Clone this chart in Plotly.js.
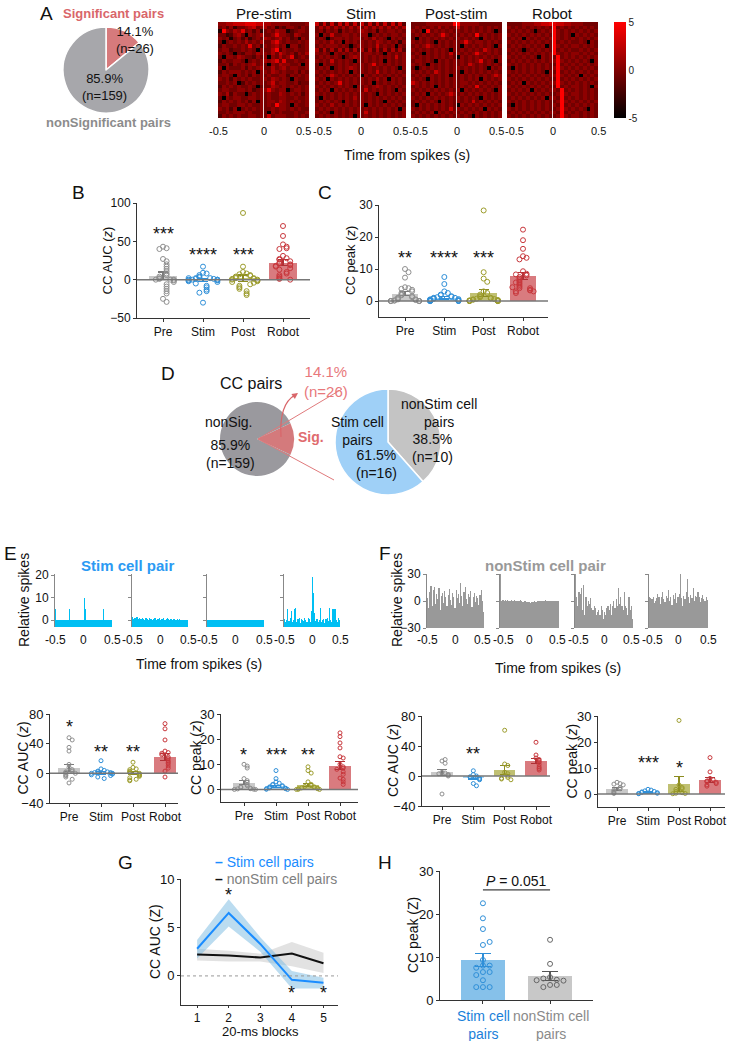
<!DOCTYPE html>
<html><head><meta charset="utf-8">
<script src="https://cdn.plot.ly/plotly-3.0.1.min.js"></script>
<style>body{margin:0;background:#fff}#chart{width:735px;height:1041px}</style>
</head><body><div id="chart"></div>
<script>
// ---------------- DATA ----------------
const catNames = ['Pre','Stim','Post','Robot'];
const heatTitles = ['Pre-stim','Stim','Post-stim','Robot'];
const pieACounts = [26,159];          // significant, non-significant
const pieDLeftCounts = [26,159];      // Sig., nonSig.
const pieDRightCounts = [10,16];      // nonStim cell pairs, Stim cell pairs

// heatmap rows (digit 0..9 -> z from -5 to 5)
const heatPre = [
"556677788877665555544445","453524456745645243554354","195465845352454655134554","442356405456445855436544",
"545145352454654564534154","404545464546446854544545","354454548453545645055345","455344545405446935445445",
"545404355465546475453546","405546544354505464583454","354455404545656848445445","445354545645405465544505",
"505444535456446456455445","354555454505546545445354","455405453545454455354545","545354545445546545405445",
"445450354545457455445344","354545445404446545454545","455445545345585455045545","546354404545454465454535",
"405455445545454455445445","354545453505455465454545","455445545445454955405445","545350454545445455454544",
"445455545445405454445445","354545445545474555445454"];
const heatStim = [
"737373737373737373737373","464646464646464646464646","453545254545654525455454","505474455454550454545545",
"454045545455454645405454","545464505454545465454525","454555454045545474545054","636363636363636363636363",
"545405454545455454054545","454545404565454545454745","545474545405454545054545","405454545454545845454545",
"454504545654545454545405","545454545054545474545454","454575454545054545454545","545054545454545464505454",
"454545845454545054545454","545454545405454565454545","454505454545474545454054","545454545454545405454545",
"405454545464545454545454","454545405454545454054545","545464545454505454545454","454545454545454545454505",
"545405454545474545454545","454545454505454545454545"];
const heatPost = [
"444455555559955555444444","454545464545745454545454","545094545454545454545404","454545458545454549454545",
"405454545454545454054545","545454054545458545545454","454575454545405454545405","545454545405454545475454",
"454054545474545458545454","545454545454054545454545","455454054545454545845405","545405454545454754545454",
"404545454545545454540545","545454754545405454545454","454545454505454545454575","545405454545454545054545",
"754545454545455454545454","454545054545454548454545","545454545454505454545405","454505454575454545454545",
"545454545454545454054545","454545405454545474545454","405454545454054545454545","545454545474545454505454",
"454545054545454545454545","545454545454545405454545"];
const heatRobot = [
"444455566778877665554444","545454545454945454545454","454545404545954545454545","545454545454954540545454",
"454505454545954545454545","545454545454945454454054","454545454504954545545454","545404545454945454454545",
"454545454545954545545454","545454540545494545454545","454545454545595454545405","545454545454494545454545",
"405454545454595454545454","545454545405494545454545","454545454545595454505454","545454545454494545454545",
"454505454545595454545454","545454545454494545545405","454545054545549454545454","545454545454459545545454",
"454545454505549454545454","545454545454459545454545","405454545454549454545454","545454545454459545454054",
"454545454545549454545454","545454545454459545545454"];

// Panel B: CC AUC (z), all significant pairs
const bPre   = [43,41,40,27,24,20,17,14,11,8,6,4,2,1,0,0,0,-1,-3,-6,-9,-12,-15,-18,-25,-29];
const bStim  = [17,9,8,6,4,3,2,2,1,1,0,0,0,0,-1,-1,-2,-3,-5,-8,-10,-13,-15,-17,-30,2];
const bPost  = [87,17,10,8,7,6,5,4,3,2,2,1,1,0,0,-1,-2,-3,-4,-6,-8,-10,-12,-15,-18,-20];
const bRobot = [70,57,46,43,41,40,31,28,27,26,24,22,21,20,19,18,17,15,13,10,8,6,4,2,1,0];
const bMeans = [5,0,2,22];
const bSems  = [5,2,4,4];
// Panel C: CC peak (z)
const cPre   = [10,9,7.3,4.3,4,3.8,3.5,3,2.5,2,1.8,1.5,1.2,1,0.8,0.5,0.5,0.3,0.2,0.1,0,0,0,0,0,0];
const cStim  = [7.5,5.3,3,2.5,2,1.8,1.5,1.3,1.2,1,1,0.8,0.7,0.6,0.5,0.4,0.3,0.3,0.2,0.1,0.1,0,0,0,0,0];
const cPost  = [28.3,9,7,6,3,2.5,2,1.5,1.2,1,0.8,0.7,0.6,0.5,0.4,0.3,0.2,0.2,0.1,0.1,0,0,0,0,0,0];
const cRobot = [22.3,19,16.3,14,13.5,13,9.3,8.5,8,7.5,7,6.5,6,5.5,5,4.5,4,4,3.5,3.3,3,3,2.5,8.3,5.8,4.3];
const cMeans = [2.3,1,2.5,7.8];
const cSems  = [0.7,0.4,1.2,1.2];

// Panel E: Stim cell pair histograms (relative spikes, 50 bins from -0.5 to 0.5 s)
const eHist1 = [5,0,0,0,0,0,0,0,0,0,0,0,5,0,0,0,0,0,0,0,0,0,0,0,0,10,5,0,0,0,0,0,0,0,0,0,0,0,0,0,0,0,5,0,0,0,0,0,0,0];
const eHist2 = [1.5,0.5,1,0.8,1.3,0.6,0.9,0.4,0.7,1.2,0.5,0.3,0.8,0.6,0.2,0.9,0.4,0.7,0.3,0.5,0.8,0.2,0.6,0.4,0.9,0.3,0.5,0.7,0.8,0.2,0.6,0.9,0.4,0.3,0.7,0.5,0.2,0.6,0.3,0.1,0.4,0.2,0.5,0.1,0.3,0.2,0.1,0.3,0.2,0];
const eHist3 = [0,0,0,0,0,0,0,0,0,0,0,0,0,0,0,0,0,0,0,0,0,0,0,0,0,0,0,0,0,0,0,0,0,0,0,0,0,0,0,0,0,0,0,0,0,0,0,0,0,0];
const eHist4 = [0.5,-1,0.3,5,-0.5,1,4,-1,0.2,5,5.5,-0.8,0.4,1,-1.2,0.6,0.2,-0.5,1,0.3,-1,0.8,0.5,-0.6,4,19,12,3,-0.4,0.7,-1,0.3,5.5,-0.8,0.2,0.6,-1.1,0.4,0.9,-0.3,5.5,0.2,-0.7,5,5,5,0.3,-0.9,1,0.2];
// Panel F: nonStim cell pair histograms
const fHist1 = [3,-8,10,17,-5,12,16,-3,8,2,14,-10,6,9,-2,11,4,-6,7,13,1,-4,9,5,-8,12,3,8,-2,20,6,-5,10,16,2,-3,8,5,11,-7,4,9,-1,6,3,-4,7,12,0,-12];
const fHist2 = [30,0,1,0.5,1,0,1,0.5,-0.5,1,0,0.5,1,0,-0.5,0.5,0,1,0,-1,0,-0.5,-1,-1.5,-1,-2,-1,-1.5,-1,-0.5,-1,0,-0.5,0,0.5,-0.5,0,0.5,1,0,0.5,0,-0.5,0,0.5,0,-0.5,0,0,-0.5];
const fHist3 = [30,5,-5,10,8,15,-10,18,-15,5,-5,0,-3,3,-8,-10,-5,-8,-15,-12,-10,-15,-5,-10,-20,-12,-15,-8,-5,-10,-3,-15,-5,0,-8,2,-5,15,-3,5,-5,-10,10,-5,-8,-15,5,-10,-5,-20];
const fHist4 = [4,3,2,5,-2,0,3,8,5,-3,4,10,2,-1,6,3,12,0,5,-4,7,2,9,-2,4,8,30,3,-5,6,2,10,24,5,-2,7,3,14,0,6,4,10,5,-1,3,7,2,0,4,1];

// Panel E bottom: Stim cell pairs (n=16)
const eAucPre   = [48,45,35,30,12,8,5,3,2,1,0,-2,-3,-5,-8,-13];
const eAucStim  = [17,6,4,3,2,2,1,1,0,0,0,-1,-2,-3,-5,-7];
const eAucPost  = [15,8,6,5,3,2,1,0,-1,-2,-3,-4,-6,-8,-9,-10];
const eAucRobot = [67,60,45,30,28,27,25,22,20,17,15,13,10,7,3,-5];
const eAucMeans = [7,1,0,22];
const eAucSems  = [5,2,2,5];
const ePeakPre   = [10,9.3,8.5,4.3,3.5,2.8,2,1.5,1,0.8,0.5,0.3,0.2,0.1,0,0];
const ePeakStim  = [7.5,4.3,3,2.5,2,1.8,1.5,1.2,1,0.8,0.6,0.5,0.3,0.2,0.1,0];
const ePeakPost  = [9,7.5,6.5,3,2,1.5,1.2,1,0.8,0.6,0.5,0.3,0.2,0.1,0,0];
const ePeakRobot = [22.5,21,18.5,16.5,13,12.5,10,9,8.5,8,7,6,4.5,4,3,2];
const ePeakMeans = [2.7,1.3,1.8,9.5];
const ePeakSems  = [0.8,0.4,0.7,1.5];
// Panel F bottom: nonStim cell pairs (n=10)
const fAucPre   = [20,22,17,5,4,3,2,1,0,-24];
const fAucStim  = [7,2,0,-1,-2,-3,-4,-5,-10,-13];
const fAucPost  = [61,16,14,5,3,0,-2,-3,-4,-5];
const fAucRobot = [45,28,24,22,20,18,15,12,10,8];
const fAucMeans = [5,-2,8,20];
const fAucSems  = [4,2,6,3];
const fPeakPre   = [4.5,4,3.8,3.5,2.5,2,1.5,1,0.5,0.2];
const fPeakStim  = [1.8,1.5,1.2,1,0.8,0.6,0.5,0.3,0.2,0.1];
const fPeakPost  = [28.3,3.5,2.5,2,1.8,1,0.5,0.3,0.2,0.1];
const fPeakRobot = [14,8.5,6,5.5,5,4.8,4.5,4,3.5,3];
const fPeakMeans = [2.0,0.6,3.8,5.5];
const fPeakSems  = [0.5,0.2,2.8,1.0];

// Panel G: CC AUC per 20-ms block
const gBlocks   = [1,2,3,4,5];
const gStimMean = [2.8,6.5,3.3,-0.4,-0.7];
const gStimLo   = [1.8,5.1,2.5,-1.3,-1.3];
const gStimHi   = [3.7,7.9,4.0,0.5,-0.2];
const gNonMean  = [2.2,2.1,1.9,2.3,1.3];
const gNonLo    = [1.6,1.5,1.5,1.0,0.3];
const gNonHi    = [2.8,2.6,2.3,3.5,2.4];

// Panel H: CC peak
const hStim    = [22.5,19,16.5,12.8,13.5,9.3,8,8,7.5,6.5,6.5,5.8,4.6,3,3,3];
const hNonStim = [14,8.4,5.3,4.7,5,4.5,3.5,3.5,3,4.6];
const hMeans   = [9.3,5.6];
const hSems    = [1.5,1.0];

// ---------------- LAYOUT HELPERS ----------------
const W=735,H=1041;
const FONT='Liberation Sans, Arial, sans-serif';
const traces=[];
const layout={width:W,height:H,margin:{l:0,r:0,t:0,b:0},paper_bgcolor:'#fff',plot_bgcolor:'rgba(0,0,0,0)',
  showlegend:false,font:{family:FONT,color:'#111',size:12},annotations:[],shapes:[],bargap:0};
const px=x=>x/W, py=y=>1-y/H;
let nAx=0;
function mkAxes(x0,x1,y0,y1,xo,yo){
  nAx++; const s=nAx===1?'':String(nAx);
  const base={showgrid:false,zeroline:false,fixedrange:true,showline:true,linecolor:'#333',linewidth:1,
    ticks:'outside',ticklen:3,tickwidth:1,tickcolor:'#333',tickfont:{family:FONT,size:12,color:'#222'}};
  layout['xaxis'+s]=Object.assign({},base,{domain:[x0/W,x1/W],anchor:'y'+s},xo||{});
  layout['yaxis'+s]=Object.assign({},base,{domain:[1-y1/H,1-y0/H],anchor:'x'+s},yo||{});
  return {x:'x'+s,y:'y'+s};
}
function txt(x,y,text,size,color,o){
  layout.annotations.push(Object.assign({xref:'paper',yref:'paper',x:px(x),y:py(y),text:text,showarrow:false,
    xanchor:'center',yanchor:'middle',font:{family:FONT,size:size||13,color:color||'#111'}},o||{}));
}
// x tick labels -0.5 / 0 / 0.5 for a row of adjacent small panels
// gapShift = null -> all labels centred on their tick; number -> inner edge labels meet at the gap centre
function edgeTicks(ax,k,last,yPix,size,gapShift){
  const tf={family:FONT,size:size,color:'#111'};
  const ty=py(yPix);
  const centred=(gapShift===null);
  layout.annotations.push({xref:ax.x,yref:'paper',x:0,y:ty,text:'0',showarrow:false,xanchor:'center',yanchor:'middle',font:tf});
  const lc=centred||k===0, rc=centred||k===last;
  layout.annotations.push({xref:ax.x,yref:'paper',x:-0.5,y:ty,text:'-0.5',showarrow:false,
    xanchor:lc?'center':'left',xshift:lc?0:-gapShift,yanchor:'middle',font:tf,borderpad:0});
  layout.annotations.push({xref:ax.x,yref:'paper',x:0.5,y:ty,text:'0.5',showarrow:false,
    xanchor:rc?'center':'right',xshift:rc?0:gapShift,yanchor:'middle',font:tf,borderpad:0});
}
function swarm(vals,thr,step){
  const placed=[];
  return vals.map(v=>{
    const k=placed.filter(p=>Math.abs(p-v)<thr).length; placed.push(v);
    let off=k===0?0:(k%2?1:-1)*Math.ceil(k/2)*step;
    return Math.max(-0.36,Math.min(0.36,off));
  });
}
const ptCol=['#8f8f8f','#2f8fd8','#9c9c2c','#c8373c'];
const barCol=['#c9c9c9','#a5d3f2','#c0c072','#d97b7f'];
const errCol=['#7a7a7a','#2f8fd8','#8c8c20','#b03035'];

// ---------------- PANEL A ----------------
txt(46,13,'A',19);
txt(113,13,'<b>Significant pairs</b>',13,'#d9666a');
txt(108,123,'<b>nonSignificant pairs</b>',13,'#8c8c8c');
function pieDomain(cx,cy,r){return {x:[(cx-r)/W,(cx+r)/W],y:[1-(cy+r)/H,1-(cy-r)/H]};}
traces.push({type:'pie',values:pieACounts,labels:['Significant','nonSignificant'],domain:pieDomain(106,70,43),
  sort:false,direction:'clockwise',rotation:0,marker:{colors:['#d67a7c','#a7a7ab'],line:{color:'#fff',width:1.5}},
  textinfo:'none',hoverinfo:'none'});
txt(135,40,(100*pieACounts[0]/(pieACounts[0]+pieACounts[1])).toFixed(1)+'%<br>(n='+pieACounts[0]+')',13);
txt(104,87,(100*pieACounts[1]/(pieACounts[0]+pieACounts[1])).toFixed(1)+'%<br>(n='+pieACounts[1]+')',13);

const heatBoxes=[[218,309],[315,406],[411,502],[507,598]];
[heatPre,heatStim,heatPost,heatRobot].forEach((rows,k)=>{
  const [x0,x1]=heatBoxes[k];
  const ax=mkAxes(x0,x1,22,118,{range:[-0.5,0.5],showline:false,ticks:'',showticklabels:false},
    {range:[rows.length-0.5,-0.5],visible:false});
  const z=rows.map(s=>s.split('').map(c=>(+c-4.5)*10/9));
  const n=rows[0].length;
  const xs=[]; for(let j=0;j<n;j++) xs.push(-0.5+(j+0.5)/n);
  traces.push({type:'heatmap',z:z,x:xs,y:rows.map((r,i)=>i),zmin:-5,zmax:5,
    colorscale:[[0,'#000000'],[0.5,'#800000'],[1,'#ff0000']],showscale:k===3,
    colorbar:{x:px(614),xanchor:'left',y:py(70),yanchor:'middle',len:96/H,lenmode:'fraction',thickness:12,
      tickvals:[-5,0,5],ticktext:['-5','0','5'],outlinewidth:0,ticks:'',tickfont:{family:FONT,size:10,color:'#222'},xpad:0,ypad:0},
    xaxis:ax.x,yaxis:ax.y,hoverinfo:'none'});
  layout.shapes.push({type:'line',xref:ax.x,yref:ax.y+' domain',x0:0,x1:0,y0:0,y1:1,line:{color:'rgba(255,255,255,0.85)',width:1}});
  txt((x0+x1)/2,13,heatTitles[k],15);
  edgeTicks(ax,k,3,131,11,3);
});
txt(407,155,'Time from spikes (s)',14);

// ---------------- BAR PANELS ----------------
function barPanel(p){
  const s=(p.c[3]-p.c[0])/3;
  const xr=[(p.xL-p.c[0])/s,3+(p.xR-p.c[3])/s];
  const ax=mkAxes(p.xL,p.xR,p.yT,p.yB,
    {range:xr,tickvals:[0,1,2,3],ticktext:catNames,tickangle:0,tickfont:{family:FONT,size:p.catLab||p.lab,color:'#111'}},
    {range:p.range,tickvals:p.ticks,tickfont:{family:FONT,size:p.lab,color:'#111'}});
  for(let i=0;i<4;i++){
    traces.push({type:'bar',x:[i],y:[p.means[i]],width:0.68,marker:{color:barCol[i],line:{width:0}},
      error_y:{type:'data',array:[p.sems[i]],color:errCol[i],thickness:1.2,width:5},xaxis:ax.x,yaxis:ax.y,hoverinfo:'none'});
  }
  layout.shapes.push({type:'line',xref:ax.x+' domain',yref:ax.y,x0:0,x1:1,y0:0,y1:0,line:{color:'#777',width:1.5}});
  const thr=(p.range[1]-p.range[0])*0.03;
  p.pts.forEach((vals,i)=>{
    const off=swarm(vals,thr,p.step||0.09);
    traces.push({type:'scatter',mode:'markers',x:vals.map((v,j)=>i+off[j]),y:vals,
      marker:{symbol:'circle-open',size:p.ms||5,color:ptCol[i],line:{width:1}},xaxis:ax.x,yaxis:ax.y,hoverinfo:'none'});
  });
  p.stars.forEach(st=>layout.annotations.push({xref:ax.x,yref:ax.y,x:st[0],y:st[1],text:st[2],showarrow:false,
    font:{family:FONT,size:18,color:'#111'},yanchor:'middle'}));
  txt(p.tx,(p.yT+p.yB)/2,p.title,p.lab+1,'#111',{textangle:-90});
  return ax;
}
txt(78,192,'B',19); txt(325,192,'C',19);
barPanel({xL:137,xR:310,c:[163,203,243,283],yT:203,yB:318,range:[-50,100],ticks:[-50,0,50,100],lab:12,
  means:bMeans,sems:bSems,pts:[bPre,bStim,bPost,bRobot],stars:[[0,60,'***'],[1,32,'****'],[2,32,'***']],
  title:'CC AUC (<i>z</i>)',tx:107});
barPanel({xL:379,xR:548,c:[405,444,483,523],yT:205,yB:317,range:[-5,30],ticks:[0,10,20,30],lab:12,
  means:cMeans,sems:cSems,pts:[cPre,cStim,cPost,cRobot],stars:[[0,13.5,'**'],[1,13.5,'****'],[2,13.5,'***']],
  title:'CC peak (<i>z</i>)',tx:351});

// ---------------- PANEL D ----------------
txt(168,374,'D',19);
txt(251,383,'CC pairs',16);
traces.push({type:'pie',values:pieDLeftCounts,labels:['Sig.','nonSig.'],domain:pieDomain(257,439,37),
  sort:false,direction:'clockwise',rotation:90-180*pieDLeftCounts[0]/(pieDLeftCounts[0]+pieDLeftCounts[1]),
  marker:{colors:['#d47a7c','#9a999e'],line:{width:0}},textinfo:'none',hoverinfo:'none'});
traces.push({type:'pie',values:pieDRightCounts,labels:['nonStim cell pairs','Stim cell pairs'],domain:pieDomain(388,442,53),
  sort:false,direction:'clockwise',rotation:0,marker:{colors:['#c4c4c4','#9fd0f7'],line:{color:'#fff',width:1.5}},
  textinfo:'none',hoverinfo:'none'});
layout.shapes.push({type:'line',xref:'paper',yref:'paper',x0:px(258),y0:py(439),x1:px(342),y1:py(389),line:{color:'#e07a7c',width:1}});
layout.shapes.push({type:'line',xref:'paper',yref:'paper',x0:px(258),y0:py(439),x1:px(334),y1:py(480),line:{color:'#e07a7c',width:1}});
layout.shapes.push({type:'path',xref:'paper',yref:'paper',
  path:'M '+px(281)+','+py(437)+' Q '+px(279)+','+py(404)+' '+px(295)+','+py(395),line:{color:'#d9666a',width:1.2}});
layout.annotations.push({xref:'paper',yref:'paper',x:px(298),y:py(393),ax:-7,ay:5,text:'',showarrow:true,arrowhead:2,arrowsize:1,arrowwidth:1.2,arrowcolor:'#d9666a'});
const totD=pieDLeftCounts[0]+pieDLeftCounts[1];
txt(228,422,'nonSig.',14);
txt(230,454,(100*pieDLeftCounts[1]/totD).toFixed(1)+'%<br>(n='+pieDLeftCounts[1]+')',14);
txt(311,437,'<b>Sig.</b>',14,'#e06b6e');
txt(326,381,(100*pieDLeftCounts[0]/totD).toFixed(1)+'%<br>(n='+pieDLeftCounts[0]+')',15,'#e8787b');
const totR=pieDRightCounts[0]+pieDRightCounts[1];
txt(439,413,'nonStim cell<br>pairs',14);
txt(432,448,(100*pieDRightCounts[0]/totR).toFixed(1)+'%<br>(n='+pieDRightCounts[0]+')',14);
txt(357,431,'Stim cell<br>pairs',14);
txt(376,464,(100*pieDRightCounts[1]/totR).toFixed(1)+'%<br>(n='+pieDRightCounts[1]+')',14);

// ---------------- PANELS E / F HISTOGRAMS ----------------
txt(10,553,'E',19); txt(385,553,'F',19);
txt(128,565,'<b>Stim cell pair</b>',15,'#2b9af3');
txt(545,565,'<b>nonStim cell pair</b>',15,'#999999');
function histPanel(x0,x1,y0,y1,range,ticks,showLab,vals,color){
  const ax=mkAxes(x0,x1,y0,y1,{range:[-0.5,0.5],showline:false,ticks:'',showticklabels:false},
    {range:range,tickvals:ticks,showticklabels:showLab,linecolor:'#888',tickcolor:'#888',tickfont:{family:FONT,size:12,color:'#111'}});
  const n=vals.length;
  traces.push({type:'bar',x:vals.map((v,i)=>-0.5+(i+0.5)/n),y:vals.map(v=>v-range[0]),base:range[0],width:1/n,
    marker:{color:color,line:{width:0}},xaxis:ax.x,yaxis:ax.y,hoverinfo:'none'});
  return ax;
}
[[55,112],[132,188],[207,264],[284,340]].forEach((b,k)=>{
  const ax=histPanel(b[0],b[1],574,627,[-3,20.5],[0,10,20],k===0,[eHist1,eHist2,eHist3,eHist4][k],'#00bff3');
  edgeTicks(ax,k,3,640,12,null);
});
[[427,484],[500,559],[575,633],[649,708]].forEach((b,k)=>{
  const ax=histPanel(b[0],b[1],574,628,[-30,30],[-30,0,30],k===0,[fHist1,fHist2,fHist3,fHist4][k],'#999999');
  edgeTicks(ax,k,3,640,12,8);
});
txt(24,600,'Relative spikes',14,'#111',{textangle:-90});
txt(397,600,'Relative spikes',14,'#111',{textangle:-90});
txt(199,664,'Time from spikes (s)',14);
txt(558,668,'Time from spikes (s)',14);

// ---------------- PANELS E / F BAR CHARTS ----------------
barPanel({xL:50,xR:178,c:[69,102,133,165],yT:714,yB:803,range:[-40,80],ticks:[-40,0,40,80],lab:13,catLab:12,ms:4,step:0.1,
  means:eAucMeans,sems:eAucSems,pts:[eAucPre,eAucStim,eAucPost,eAucRobot],stars:[[0,62,'*'],[1,29,'**'],[2,29,'**']],
  title:'CC AUC (<i>z</i>)',tx:22});
barPanel({xL:221,xR:358,c:[244,275,307,340],yT:714,yB:802,range:[-5,30],ticks:[0,10,20,30],lab:13,catLab:12,ms:4,step:0.1,
  means:ePeakMeans,sems:ePeakSems,pts:[ePeakPre,ePeakStim,ePeakPost,ePeakRobot],stars:[[0,13.5,'*'],[1,13.5,'***'],[2,13.5,'**']],
  title:'CC peak (<i>z</i>)',tx:196});
barPanel({xL:422,xR:550,c:[442,473,506,536],yT:716,yB:806,range:[-40,80],ticks:[-40,0,40,80],lab:13,catLab:12,ms:4,step:0.1,
  means:fAucMeans,sems:fAucSems,pts:[fAucPre,fAucStim,fAucPost,fAucRobot],stars:[[1,29,'**']],
  title:'CC AUC (<i>z</i>)',tx:393});
barPanel({xL:598,xR:725,c:[617,649,682,710],yT:716,yB:807,range:[-5,30],ticks:[0,10,20,30],lab:13,catLab:12,ms:4,step:0.1,
  means:fPeakMeans,sems:fPeakSems,pts:[fPeakPre,fPeakStim,fPeakPost,fPeakRobot],stars:[[1,12,'***'],[2,10,'*']],
  title:'CC peak (<i>z</i>)',tx:571});

// ---------------- PANEL G ----------------
txt(125,862,'G',19);
const gAx=mkAxes(181,338,879,1005,{range:[0.49,5.46],tickvals:gBlocks,ticklen:2,tickfont:{family:FONT,size:12,color:'#111'}},
  {range:[-3,10],tickvals:[0,5,10],tickfont:{family:FONT,size:13,color:'#111'}});
traces.push({type:'scatter',mode:'lines',x:gBlocks.concat(gBlocks.slice().reverse()),y:gNonHi.concat(gNonLo.slice().reverse()),
  fill:'toself',fillcolor:'rgba(190,190,190,0.45)',line:{width:0},xaxis:gAx.x,yaxis:gAx.y,hoverinfo:'none'});
traces.push({type:'scatter',mode:'lines',x:gBlocks.concat(gBlocks.slice().reverse()),y:gStimHi.concat(gStimLo.slice().reverse()),
  fill:'toself',fillcolor:'rgba(120,185,225,0.5)',line:{width:0},xaxis:gAx.x,yaxis:gAx.y,hoverinfo:'none'});
layout.shapes.push({type:'line',xref:gAx.x+' domain',yref:gAx.y,x0:0,x1:1,y0:0,y1:0,line:{color:'#999',width:1,dash:'dot'}});
traces.push({type:'scatter',mode:'lines',x:gBlocks,y:gNonMean,line:{color:'#111',width:2},xaxis:gAx.x,yaxis:gAx.y,hoverinfo:'none'});
traces.push({type:'scatter',mode:'lines',x:gBlocks,y:gStimMean,line:{color:'#1a8cff',width:2},xaxis:gAx.x,yaxis:gAx.y,hoverinfo:'none'});
[[2,8.4],[4,-1.8],[5,-1.8]].forEach(s=>layout.annotations.push({xref:gAx.x,yref:gAx.y,x:s[0],y:s[1],text:'*',showarrow:false,
  font:{family:FONT,size:18,color:'#111'}}));
txt(213,862,'<span style="color:#1a8cff"><b>–</b></span> Stim cell pairs',14,'#1a8cff',{xanchor:'left'});
txt(213,879,'<span style="color:#111"><b>–</b></span> nonStim cell pairs',14,'#808080',{xanchor:'left'});
txt(155,942,'CC AUC (Z)',14,'#111',{textangle:-90});
txt(260,1031,'20-ms blocks',13);

// ---------------- PANEL H ----------------
txt(385,862,'H',19);
const hAx=mkAxes(440,593,871,1000,{range:[-0.64,1.64],tickvals:[0,1],showticklabels:false},
  {range:[0,30],tickvals:[0,10,20,30],tickfont:{family:FONT,size:13,color:'#111'}});
const hBarCol=['#86c1ea','#c8c8c8'], hErr=['#2f8fd8','#555'], hPt=['#2f8fd8','#666'];
[0,1].forEach(i=>traces.push({type:'bar',x:[i],y:[hMeans[i]],width:0.66,marker:{color:hBarCol[i],line:{width:0}},
  error_y:{type:'data',array:[hSems[i]],color:hErr[i],thickness:1.2,width:8},xaxis:hAx.x,yaxis:hAx.y,hoverinfo:'none'}));
[hStim,hNonStim].forEach((vals,i)=>{
  const off=swarm(vals,1.0,0.1);
  traces.push({type:'scatter',mode:'markers',x:vals.map((v,j)=>i+off[j]),y:vals,
    marker:{symbol:'circle-open',size:5,color:hPt[i],line:{width:1}},xaxis:hAx.x,yaxis:hAx.y,hoverinfo:'none'});
});
layout.shapes.push({type:'line',xref:hAx.x,yref:hAx.y,x0:0,x1:1,y0:25.6,y1:25.6,line:{color:'#111',width:1}});
layout.annotations.push({xref:hAx.x,yref:hAx.y,x:0.5,y:27.6,text:'<i>P</i> = 0.051',showarrow:false,font:{family:FONT,size:14,color:'#111'}});
txt(413,935,'CC peak (Z)',14,'#111',{textangle:-90});
txt(483,1025,'Stim cell<br>pairs',14,'#1a7fd9');
txt(551,1025,'nonStim cell<br>pairs',14,'#8a8a8a');

Plotly.newPlot('chart',traces,layout,{staticPlot:true,displayModeBar:false});
</script>
</body></html>
